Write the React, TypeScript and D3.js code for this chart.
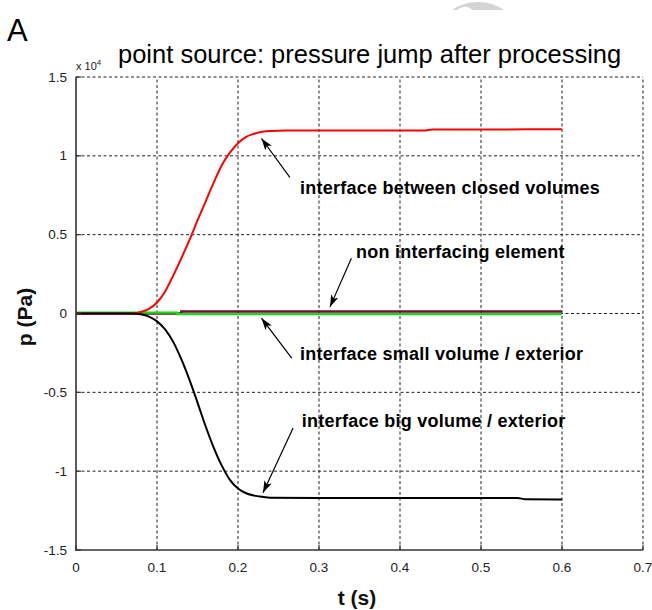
import React from 'react';
import * as d3 from 'd3';

const xTicks = [0, 0.1, 0.2, 0.3, 0.4, 0.5, 0.6, 0.7];
const xTickLabels = ['0', '0.1', '0.2', '0.3', '0.4', '0.5', '0.6', '0.7'];
const yTicks = [-1.5, -1, -0.5, 0, 0.5, 1, 1.5];
const yTickLabels = ['-1.5', '-1', '-0.5', '0', '0.5', '1', '1.5'];

// interface between closed volumes (x 10^4 Pa)
const tRed = [0, 0.07, 0.08, 0.09, 0.1, 0.11, 0.12, 0.13, 0.14, 0.15, 0.16, 0.17, 0.18, 0.19, 0.2, 0.21, 0.22, 0.23, 0.24, 0.26, 0.3, 0.43, 0.44, 0.6];
const pRed = [0, 0, 0.01, 0.03, 0.07, 0.14, 0.24, 0.35, 0.465, 0.59, 0.71, 0.83, 0.94, 1.02, 1.08, 1.12, 1.14, 1.153, 1.158, 1.16, 1.16, 1.16, 1.167, 1.168];

// interface big volume / exterior
const tBlack = [0, 0.07, 0.08, 0.09, 0.1, 0.11, 0.12, 0.13, 0.14, 0.15, 0.16, 0.17, 0.18, 0.19, 0.2, 0.21, 0.22, 0.23, 0.24, 0.3, 0.545, 0.555, 0.6];
const pBlack = [0, 0, -0.005, -0.02, -0.05, -0.1, -0.18, -0.29, -0.42, -0.565, -0.715, -0.85, -0.965, -1.055, -1.11, -1.14, -1.155, -1.163, -1.168, -1.17, -1.17, -1.178, -1.18];

// non interfacing element
const tPurple = [0, 0.13, 0.13, 0.6];
const pPurple = [0, 0, 0.012, 0.012];

// interface small volume / exterior
const tGreen = [0, 0.125, 0.125, 0.6];
const pGreen = [0.005, 0.005, -0.004, -0.004];

const annotationTexts = [
  'interface between closed volumes',
  'non interfacing element',
  'interface small volume / exterior',
  'interface big volume / exterior',
];
// text anchor (t, p), arrow tail (t, p), arrow head (t, p)
const annotationText_t = [0.2765, 0.3457, 0.2765, 0.2786];
const annotationText_p = [0.755, 0.35, -0.296, -0.72];
const arrowTail_t = [0.264, 0.34, 0.2663, 0.268];
const arrowTail_p = [0.863, 0.35, -0.283, -0.726];
const arrowHead_t = [0.229, 0.3136, 0.229, 0.2309];
const arrowHead_p = [1.11, 0.042, -0.03, -1.137];

const FONT = 'Arial, "Liberation Sans", Helvetica, sans-serif';

export default function App() {
  const W = 652;
  const H = 610;
  const x = d3.scaleLinear().domain([0, 0.7]).range([76, 643]);
  const y = d3.scaleLinear().domain([-1.5, 1.5]).range([550, 77]);

  const mk = (ts: number[], ps: number[]) => ts.map((t, i) => [t, ps[i]] as [number, number]);
  const smooth = d3.line<[number, number]>().x(d => x(d[0])).y(d => y(d[1])).curve(d3.curveMonotoneX);
  const straight = d3.line<[number, number]>().x(d => x(d[0])).y(d => y(d[1]));

  const x0 = x(0), y0 = y(-1.5);

  return (
    <svg width={W} height={H} viewBox={`0 0 ${W} ${H}`} style={{ position: 'absolute', left: 0, top: 0, background: '#fff' }}>
      <defs>
        <marker id="ah" viewBox="0 0 12 8" refX="12" refY="4" markerWidth="12" markerHeight="8" markerUnits="userSpaceOnUse" orient="auto">
          <path d="M0,0 L12,4 L0,8 L3,4 Z" fill="#000" />
        </marker>
        <clipPath id="wm"><rect x="400" y="0" width="160" height="10" /></clipPath>
      </defs>
      <rect x={0} y={0} width={W} height={H} fill="#fff" />
      {/* faint watermark */}
      <g clipPath="url(#wm)">
        <ellipse cx={478} cy={32} rx={38} ry={30} fill="#d4d4d4" />
        <ellipse cx={462} cy={22} rx={12} ry={16} fill="#fff" transform="rotate(30 462 22)" />
      </g>

      {/* panel letter */}
      <text x={7} y={41} fontFamily={FONT} fontSize={31} fill="#000">A</text>

      {/* title */}
      <text x={118} y={63} fontFamily={FONT} fontSize={25.5} fill="#000">point source: pressure jump after processing</text>

      {/* exponent */}
      <text x={76} y={70} fontFamily={FONT} fontSize={11} fill="#222">x 10<tspan dy={-5} fontSize={8}>4</tspan></text>

      {/* grid */}
      <g stroke="#222" strokeWidth={1} strokeDasharray="3,2.5">
        {xTicks.filter(t => t > 0).map(t => (
          <line key={'gx' + t} x1={x(t)} x2={x(t)} y1={y(-1.5)} y2={y(1.5)} />
        ))}
        {yTicks.filter(v => v > -1.5).map(v => (
          <line key={'gy' + v} x1={x(0)} x2={x(0.7)} y1={y(v)} y2={y(v)} />
        ))}
      </g>

      {/* data lines */}
      <path d={straight(mk(tPurple, pPurple)) || ''} fill="none" stroke="#7a0a3c" strokeWidth={2.5} />
      <path d={straight(mk(tGreen, pGreen)) || ''} fill="none" stroke="#10e010" strokeWidth={2.2} />
      <path d={smooth(mk(tRed, pRed)) || ''} fill="none" stroke="#ff0000" strokeWidth={2} />
      <path d={smooth(mk(tBlack, pBlack)) || ''} fill="none" stroke="#000" strokeWidth={2} />

      {/* axes */}
      <g stroke="#333" strokeWidth={1.6}>
        <line x1={x0} x2={x0} y1={y(1.5)} y2={y0 + 0.8} />
        <line x1={x0 - 0.8} x2={x(0.7)} y1={y0} y2={y0} />
      </g>
      <g stroke="#333" strokeWidth={1.2}>
        {xTicks.map(t => (
          <line key={'tx' + t} x1={x(t)} x2={x(t)} y1={y0} y2={y0 - 5} />
        ))}
        {yTicks.map(v => (
          <line key={'ty' + v} x1={x0} x2={x0 + 5} y1={y(v)} y2={y(v)} />
        ))}
      </g>
      <g fontFamily={FONT} fontSize={13.5} fill="#222">
        {xTicks.map((t, i) => (
          <text key={'lx' + t} x={x(t)} y={572} textAnchor="middle">{xTickLabels[i]}</text>
        ))}
        {yTicks.map((v, i) => (
          <text key={'ly' + v} x={67} y={y(v) + 4.5} textAnchor="end">{yTickLabels[i]}</text>
        ))}
      </g>

      {/* axis labels */}
      <text x={357} y={605} fontFamily={FONT} fontSize={21} fontWeight="bold" fill="#111" textAnchor="middle">t (s)</text>
      <text transform="translate(32,317) rotate(-90)" fontFamily={FONT} fontSize={21} fontWeight="bold" fill="#111" textAnchor="middle">p (Pa)</text>

      {/* annotations */}
      {annotationTexts.map((s, i) => (
        <g key={'an' + i}>
          <line x1={x(arrowTail_t[i])} y1={y(arrowTail_p[i])} x2={x(arrowHead_t[i])} y2={y(arrowHead_p[i])} stroke="#000" strokeWidth={1.2} markerEnd="url(#ah)" />
          <text x={x(annotationText_t[i])} y={y(annotationText_p[i])} fontFamily={FONT} fontSize={18} letterSpacing={0.25} fontWeight="bold" fill="#000">{s}</text>
        </g>
      ))}
    </svg>
  );
}
